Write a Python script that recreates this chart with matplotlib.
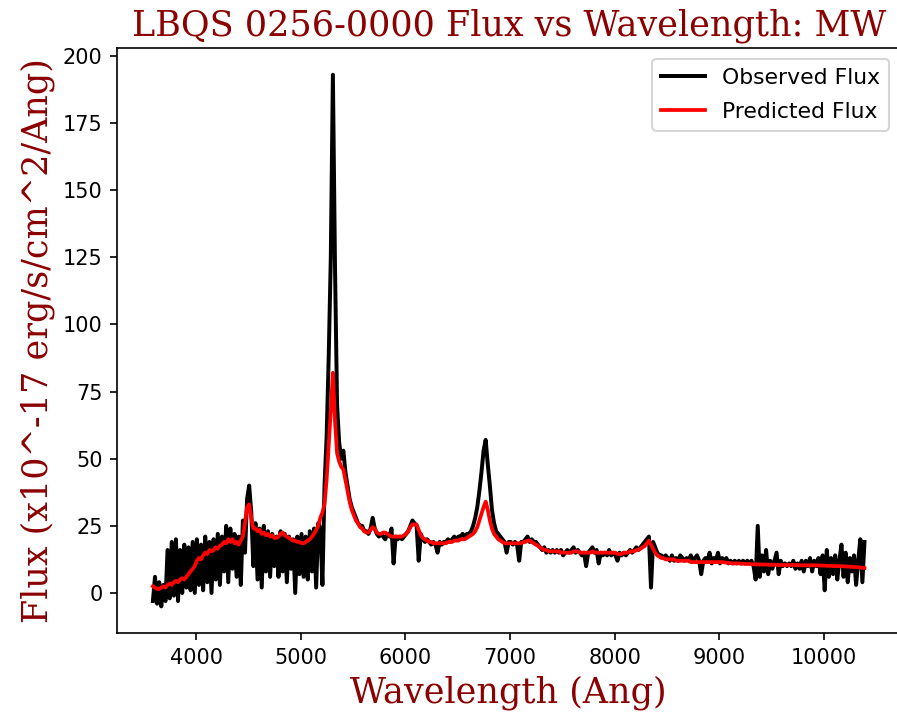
import numpy as np
import matplotlib
matplotlib.use("Agg")
import matplotlib.pyplot as plt

# Spectrum of LBQS 0256-0000, sampled every 20 Angstrom
object_name = "LBQS 0256-0000"
dust_model = "MW"
wl_start = 3588
wl_step = 20

# Observed flux (x10^-17 erg/s/cm^2/Ang)
obs_flux = [
    -3, 6, -4, 4, -5, 3, -3, 16, -2,
    19, -1, 20, -3, 16, 0, 18, 2, 17, 1,
    19, 0, 20, 3, 18, 1, 21, 4, 19, 0,
    20, 5, 22, 3, 21, 8, 25, 4, 24, 9,
    22, 6, 21, 3, 27, 15, 35, 40, 30, 10,
    26, 5, 24, 2, 25, 8, 23, 6, 22, 10,
    21, 6, 23, 8, 22, 4, 21, 9, 20, 0,
    21, 7, 22, 6, 21, 5, 23, 8, 24, 2,
    26, 24, 3, 40, 58, 88, 125, 193, 122, 70,
    56, 50, 53, 45, 40, 35, 32, 30, 28, 26,
    25, 25, 23, 23, 22, 24, 28, 24, 22, 21,
    22, 21, 20, 22, 21, 24, 11, 21, 20, 21,
    20, 21, 22, 23, 25, 27, 26, 25, 12, 22,
    20, 19, 20, 19, 18, 19, 18, 15, 19, 18,
    19, 19, 20, 19, 20, 21, 20, 21, 21, 22,
    21, 22, 22, 23, 25, 28, 32, 38, 45, 53,
    57, 48, 40, 31, 26, 23, 22, 21, 20, 19,
    15, 19, 19, 18, 19, 18, 12, 19, 19, 20,
    21, 19, 20, 19, 19, 18, 17, 16, 17, 15,
    16, 15, 16, 15, 16, 15, 16, 14, 15, 16,
    15, 16, 17, 15, 16, 15, 14, 15, 10, 15,
    16, 17, 15, 16, 11, 15, 14, 15, 14, 16,
    14, 15, 14, 12, 15, 14, 15, 14, 15, 16,
    15, 16, 17, 16, 17, 18, 19, 20, 21, 2,
    19, 17, 15, 14, 14, 13, 14, 13, 12, 14,
    12, 13, 12, 14, 13, 12, 13, 12, 14, 12,
    13, 14, 12, 7, 12, 13, 12, 15, 11, 13,
    12, 15, 11, 13, 12, 13, 11, 12, 11, 12,
    11, 12, 11, 12, 11, 12, 11, 12, 10, 5,
    25, 6, 14, 8, 16, 7, 12, 9, 12, 15,
    7, 12, 10, 11, 10, 11, 10, 12, 9, 11,
    9, 12, 8, 12, 10, 13, 8, 12, 10, 13,
    7, 14, 1, 16, 6, 13, 7, 14, 5, 12,
    18, 6, 15, 4, 13, 8, 14, 3, 12, 20,
    4, 19,
]

# Model prediction on the same grid
pred_flux = [
    2.5, 2, 1.5, 1.5, 2, 2.5, 2, 3, 3.5,
    3, 4, 4.5, 4, 5, 5.5, 5, 6, 7, 8,
    9, 10, 12, 13, 12.5, 14, 15, 14.5, 16, 15.5,
    16, 17, 16.5, 17.5, 18, 19, 18.5, 20, 19, 20,
    18.5, 19, 18, 19.5, 21, 26, 32, 33, 28, 24,
    24, 23, 23.5, 22, 22.5, 21.5, 22, 21, 21.5, 20.5,
    20.5, 21, 22, 22.5, 21.5, 21, 20.5, 20, 19.5, 19.5,
    19, 19, 18.5, 18.5, 19, 19.5, 20, 21, 22, 23.5,
    25, 28, 30, 33, 42, 55, 68, 82, 64, 52,
    49, 47, 46, 42, 38, 34, 31, 29, 27, 26,
    24.5, 24, 23, 22.5, 22.5, 23.5, 24.5, 24, 22.5, 22,
    22, 22.5, 22.5, 22, 21.5, 21, 21, 21, 21, 21,
    21, 21.5, 22, 23, 24.5, 25.5, 25.5, 25.5, 23.5, 21.5,
    20.5, 20, 19.5, 19, 19, 18.5, 18.5, 18.5, 18.5, 18.5,
    18.5, 18.5, 19, 19, 19, 19.5, 19.5, 19.5, 20, 20,
    20, 20.5, 21, 21.5, 22, 23, 24.5, 27, 29.5, 32,
    34, 31, 27, 24, 22, 21, 20, 19.5, 19, 18.5,
    18.5, 18.5, 18.5, 18.5, 18.5, 18.5, 18.5, 18.5, 19, 19,
    19.5, 19.5, 19, 18.5, 18, 17.5, 17, 16.5, 16, 16,
    15.5, 15.5, 15.5, 15.5, 15.5, 15.5, 15, 15, 15, 15,
    15, 15, 15.5, 15.5, 15.5, 15, 15, 15, 15, 15,
    15, 15.5, 15, 15, 15, 15, 15, 15, 15, 15,
    15, 15, 15, 14.5, 14.5, 14.5, 15, 15, 15, 15.5,
    15.5, 15.5, 16, 16, 16.5, 17, 17.5, 18.5, 19.5, 18,
    16.5, 15, 14, 13.5, 13, 13, 12.5, 12.5, 12.5, 12.5,
    12.5, 12, 12, 12, 12, 12, 12, 12, 11.5, 11.5,
    11.5, 11.5, 11.5, 11.5, 11.5, 11.5, 11.5, 11.5, 11.5, 11.5,
    11.5, 11.5, 11.5, 11.5, 11.4, 11.3, 11.2, 11.1, 11, 11,
    11, 11, 10.9, 10.9, 10.8, 10.8, 10.8, 10.7, 10.7, 10.7,
    10.6, 10.6, 10.6, 10.6, 10.6, 10.5, 10.5, 10.5, 10.5, 10.5,
    10.4, 10.4, 10.4, 10.4, 10.4, 10.4, 10.4, 10.4, 10.4, 10.4,
    10.3, 10.3, 10.3, 10.3, 10.3, 10.3, 10.3, 10.3, 10.3, 10.3,
    10.2, 10.2, 10.2, 10.1, 10.1, 10.1, 10, 10, 10, 10,
    10, 9.9, 9.9, 9.8, 9.8, 9.7, 9.7, 9.6, 9.6, 9.5,
    9.4, 9.3,
]

wavelength = wl_start + wl_step * np.arange(len(obs_flux))

fig = plt.figure(figsize=(5.98, 4.78), dpi=150)
ax = fig.add_axes([0.1308, 0.1172, 0.8726, 0.8156])

ax.plot(wavelength, obs_flux, color="black", lw=1.9, label="Observed Flux")
ax.plot(wavelength, pred_flux, color="red", lw=1.8, label="Predicted Flux")

ax.set_title(object_name + " Flux vs Wavelength: " + dust_model,
             family="serif", color="darkred", fontsize=16.8)
ax.set_xlabel("Wavelength (Ang)", family="serif", color="darkred", fontsize=16.8)
ax.set_ylabel("Flux (x10^-17 erg/s/cm^2/Ang)", family="serif", color="darkred", fontsize=16.8)
ax.legend(loc="upper right", fontsize=10.5, labelspacing=0.65)

fig.savefig("out.png", dpi=150)
